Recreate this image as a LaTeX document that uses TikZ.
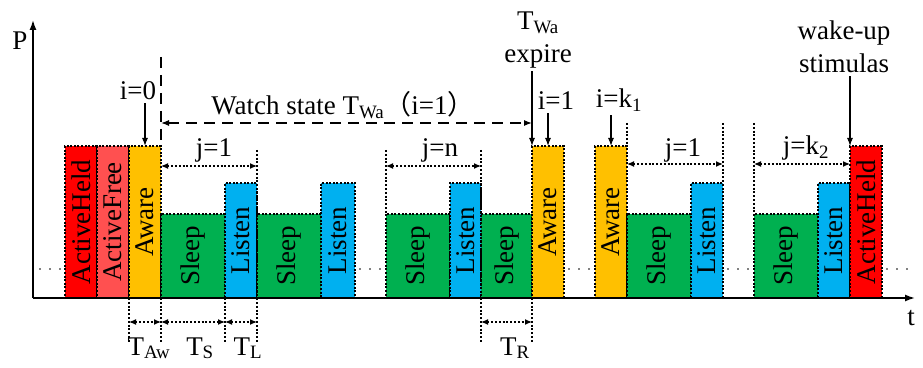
\documentclass[tikz,border=0pt]{standalone}
\usepackage{fontspec}
\setmainfont{Liberation Serif}
\newfontfamily\cjk{Noto Sans CJK SC}
\usepackage{graphicx}
\usepackage{xcolor}
\usepackage{tikz}
\usetikzlibrary{arrows.meta}
\definecolor{cHeld}{RGB}{255,0,0}
\definecolor{cFree}{RGB}{255,80,80}
\definecolor{cAware}{RGB}{255,192,0}
\definecolor{cSleep}{RGB}{0,176,80}
\definecolor{cListen}{RGB}{0,176,240}

\begin{document}
\begin{tikzpicture}[x=1pt,y=1pt,
  txt/.style={font=\fontsize{27}{33}\selectfont,inner sep=0pt},
  lab/.style={txt,inner sep=3pt},
  bar/.style={txt,draw=black,dash pattern=on 2pt off 1.6pt,line width=1.3pt,anchor=south west,outer sep=0pt,minimum width=32pt},
  hi/.style={minimum height=152pt},
  mid/.style={minimum height=115pt},
  lo/.style={minimum height=84pt},
  pointer/.style={-{Latex[length=8pt,width=6pt]},line width=1.1pt},
  watch/.style={{Latex[length=8pt,width=6pt]}-{Latex[length=8pt,width=6pt]},dash pattern=on 11pt off 7pt,line width=1.2pt},
  span/.style={{Latex[length=7pt,width=6pt]}-{Latex[length=7pt,width=6pt]},dash pattern=on 2pt off 1.8pt,line width=1.2pt},
  guide/.style={dash pattern=on 2pt off 1.8pt,line width=1.2pt},
  dotrow/.style={dash pattern=on 0pt off 10pt,line cap=round,line width=1.6pt}]
\useasboundingbox (-33,-69) rectangle (890,298);
\node[bar,hi,fill=cHeld] (ah0) at (32,0) {\rotatebox{90}{ActiveHeld}};
\node[bar,hi,fill=cFree] (af0) at (ah0.south east) {\rotatebox{90}{ActiveFree}};
\node[bar,hi,fill=cAware] (aw0) at (af0.south east) {\rotatebox{90}{Aware}};
\node[bar,lo,fill=cSleep,minimum width=64pt] (sl1) at (aw0.south east) {\rotatebox{90}{Sleep}};
\node[bar,mid,fill=cListen] (ls1) at (sl1.south east) {\rotatebox{90}{Listen}};
\node[bar,lo,fill=cSleep,minimum width=64pt] (sl2) at (ls1.south east) {\rotatebox{90}{Sleep}};
\node[bar,mid,fill=cListen,minimum width=34pt] (ls2) at (sl2.south east) {\rotatebox{90}{Listen}};
\node[bar,lo,fill=cSleep,minimum width=64pt] (sl3) at (353,0) {\rotatebox{90}{Sleep}};
\node[bar,mid,fill=cListen,minimum width=31pt] (ls3) at (sl3.south east) {\rotatebox{90}{Listen}};
\node[bar,lo,fill=cSleep,minimum width=51pt] (sl4) at (ls3.south east) {\rotatebox{90}{Sleep}};
\node[bar,hi,fill=cAware] (aw1) at (sl4.south east) {\rotatebox{90}{Aware}};
\node[bar,hi,fill=cAware] (aw2) at (562,0) {\rotatebox{90}{Aware}};
\node[bar,lo,fill=cSleep,minimum width=64pt] (sl5) at (aw2.south east) {\rotatebox{90}{Sleep}};
\node[bar,mid,fill=cListen] (ls5) at (sl5.south east) {\rotatebox{90}{Listen}};
\node[bar,lo,fill=cSleep,minimum width=64pt] (sl6) at (721,0) {\rotatebox{90}{Sleep}};
\node[bar,mid,fill=cListen] (ls6) at (sl6.south east) {\rotatebox{90}{Listen}};
\node[bar,hi,fill=cHeld] (ah1) at (ls6.south east) {\rotatebox{90}{ActiveHeld}};
\coordinate (o) at (0,0);
\draw[-{Latex[length=10pt,width=7pt]},line width=1.5pt] (o) -- (0,278);
\draw[-{Latex[length=10pt,width=7pt]},line width=1.5pt] (o) -- (882,0);
\node[txt,anchor=base] (plab) at (-13,248) {P};
\node[txt,anchor=base] (tlab) at (878,-27) {t};
\draw[dotrow] (7,29) -- ++(22,0);
\draw[dotrow] ([shift={(5pt,29pt)}]ls2.south east) -- ++(22,0);
\draw[dotrow] ([shift={(5pt,29pt)}]aw1.south east) -- ++(22,0);
\draw[dotrow] ([shift={(5pt,29pt)}]ls5.south east) -- ++(22,0);
\draw[dotrow] ([shift={(5pt,29pt)}]ah1.south east) -- ++(22,0);
\node[lab,anchor=base] (i0) at (105,198) {i=0};
\draw[pointer] (aw0.north |- i0.south) -- (aw0.north);
\node[lab,anchor=base] (i1) at (523,188) {i=1};
\draw[pointer] (aw1.north |- i1.south) -- (aw1.north);
\node[lab,anchor=base] (ik1) at (586,190) {i=k\textsubscript{1}};
\draw[pointer] (aw2.north |- ik1.south) -- (aw2.north);
\node[lab,align=center] (twa) at (505,258) {T\textsubscript{Wa}\\expire};
\draw[pointer] (aw1.north west |- twa.south) -- (aw1.north west);
\node[lab,align=center] (wake) at (811,251) {wake-up\\stimulas};
\draw[pointer] (ah1.north west |- wake.south) -- (ah1.north west);
\draw[dash pattern=on 11pt off 7pt,line width=1.2pt] ([yshift=89pt]aw0.north east) -- (aw0.north east);
\draw[watch] ([yshift=23pt]aw0.north east) -- ([yshift=23pt]aw1.north west);
\node[lab,anchor=base] (wst) at (310,183) {Watch state T\textsubscript{Wa}{\cjk （}i=1{\cjk ）}};
\draw[guide] ([yshift=33pt]ls1.north east) -- ([yshift=-45pt]ls1.south east);
\draw[span] ([yshift=-20pt]aw0.north east) -- ([yshift=17pt]ls1.north east);
\node[lab,anchor=base] (j1a) at (181,141) {j=1};
\draw[guide] ([yshift=64pt]sl3.north west) -- (sl3.north west);
\draw[guide] ([yshift=33pt]ls3.north east) -- ([yshift=-45pt]ls3.south east);
\draw[span] ([yshift=48pt]sl3.north west) -- ([yshift=17pt]ls3.north east);
\node[lab,anchor=base] (jn) at (407,141) {j=n};
\draw[guide] ([yshift=23pt]aw2.north east) -- (aw2.north east);
\draw[guide] ([yshift=60pt]ls5.north east) -- (ls5.north east);
\draw[span] ([yshift=-18pt]aw2.north east) -- ([yshift=19pt]ls5.north east);
\node[lab,anchor=base] (j1b) at (650,141) {j=1};
\draw[guide] ([yshift=91pt]sl6.north west) -- (sl6.north west);
\draw[span] ([yshift=50pt]sl6.north west) -- ([yshift=-18pt]ah1.north west);
\node[lab,anchor=base] (jk2) at (773,143) {j=k\textsubscript{2}};
\draw[guide] (aw0.south west) -- ([yshift=-45pt]aw0.south west);
\draw[guide] (aw0.south east) -- ([yshift=-45pt]aw0.south east);
\draw[guide] (ls1.south west) -- ([yshift=-45pt]ls1.south west);
\draw[guide] (aw1.south west) -- ([yshift=-45pt]aw1.south west);
\draw[span] ([yshift=-24pt]aw0.south west) -- ([yshift=-24pt]aw0.south east);
\draw[span] ([yshift=-24pt]aw0.south east) -- ([yshift=-24pt]ls1.south west);
\draw[span] ([yshift=-24pt]ls1.south west) -- ([yshift=-24pt]ls1.south east);
\draw[span] ([yshift=-24pt]ls3.south east) -- ([yshift=-24pt]aw1.south west);
\node[lab,anchor=base] (taw) at (116,-57) {T\textsubscript{Aw}};
\node[lab,anchor=base] (ts) at (167,-57) {T\textsubscript{S}};
\node[lab,anchor=base] (tl) at (215,-57) {T\textsubscript{L}};
\node[lab,anchor=base] (tr) at (482,-57) {T\textsubscript{R}};
\end{tikzpicture}
\end{document}
